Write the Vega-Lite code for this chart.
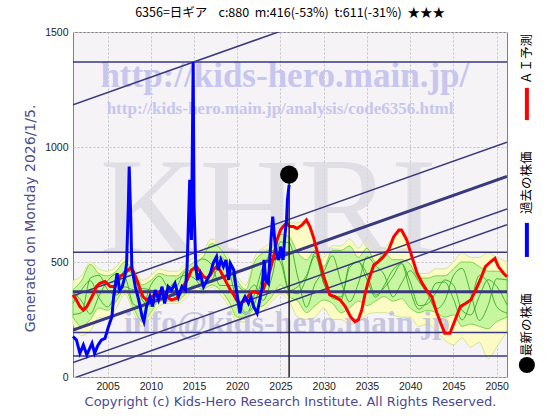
{
  "$schema": "https://vega.github.io/schema/vega-lite/v6.json",
  "width": 434,
  "height": 345,
  "autosize": {"type": "none"},
  "padding": {"left": 73, "top": 32, "right": 53, "bottom": 43},
  "background": "#ffffff",
  "config": {"view": {"fill": "#f5f3f6", "stroke": "#808080", "strokeWidth": 1}},
  "title": {"text": "6356=日ギア\u00a0\u00a0\u00a0\u00a0c:880\u00a0\u00a0m:416(-53%)\u00a0\u00a0t:611(-31%)\u00a0\u00a0★★★", "font": "Noto Sans CJK JP", "fontSize": 12.5, "fontWeight": "normal", "color": "#000000", "offset": 8, "anchor": "middle"},
  "datasets": {
    "blue": [
      {"yr": 2001.0, "v": 176}, {"yr": 2001.4, "v": 161}, {"yr": 2001.8, "v": 103}, {"yr": 2002.2, "v": 139}, {"yr": 2002.6, "v": 96},
      {"yr": 2003.2, "v": 147}, {"yr": 2003.5, "v": 103}, {"yr": 2003.9, "v": 139}, {"yr": 2004.3, "v": 161}, {"yr": 2004.7, "v": 168},
      {"yr": 2005.1, "v": 219}, {"yr": 2005.5, "v": 262}, {"yr": 2005.7, "v": 349}, {"yr": 2006.1, "v": 451}, {"yr": 2006.4, "v": 378},
      {"yr": 2006.7, "v": 393}, {"yr": 2007.0, "v": 436}, {"yr": 2007.2, "v": 494}, {"yr": 2007.4, "v": 741}, {"yr": 2007.5, "v": 915},
      {"yr": 2007.7, "v": 668}, {"yr": 2007.8, "v": 480}, {"yr": 2008.2, "v": 393}, {"yr": 2008.6, "v": 335}, {"yr": 2009.0, "v": 262},
      {"yr": 2009.2, "v": 241}, {"yr": 2009.5, "v": 306}, {"yr": 2009.9, "v": 349}, {"yr": 2010.2, "v": 306}, {"yr": 2010.5, "v": 378},
      {"yr": 2010.9, "v": 335}, {"yr": 2011.3, "v": 393}, {"yr": 2011.6, "v": 320}, {"yr": 2012.0, "v": 393}, {"yr": 2012.4, "v": 378},
      {"yr": 2012.8, "v": 407}, {"yr": 2013.2, "v": 349}, {"yr": 2013.6, "v": 393}, {"yr": 2014.0, "v": 378}, {"yr": 2014.2, "v": 480},
      {"yr": 2014.5, "v": 857}, {"yr": 2014.7, "v": 596}, {"yr": 2014.9, "v": 1370}, {"yr": 2015.0, "v": 741}, {"yr": 2015.2, "v": 480},
      {"yr": 2015.4, "v": 422}, {"yr": 2015.7, "v": 451}, {"yr": 2016.1, "v": 393}, {"yr": 2016.5, "v": 422}, {"yr": 2016.9, "v": 451},
      {"yr": 2017.2, "v": 494}, {"yr": 2017.6, "v": 523}, {"yr": 2017.8, "v": 465}, {"yr": 2018.1, "v": 509}, {"yr": 2018.4, "v": 480},
      {"yr": 2018.7, "v": 509}, {"yr": 2019.0, "v": 422}, {"yr": 2019.2, "v": 494}, {"yr": 2019.6, "v": 465}, {"yr": 2019.9, "v": 378},
      {"yr": 2020.3, "v": 277}, {"yr": 2020.5, "v": 320}, {"yr": 2020.9, "v": 349}, {"yr": 2021.3, "v": 320}, {"yr": 2021.6, "v": 349},
      {"yr": 2021.9, "v": 306}, {"yr": 2022.3, "v": 277}, {"yr": 2022.6, "v": 335}, {"yr": 2022.9, "v": 393}, {"yr": 2023.1, "v": 509},
      {"yr": 2023.3, "v": 422}, {"yr": 2023.6, "v": 407}, {"yr": 2023.9, "v": 596}, {"yr": 2024.1, "v": 697}, {"yr": 2024.3, "v": 610},
      {"yr": 2024.5, "v": 538}, {"yr": 2024.8, "v": 509}, {"yr": 2025.0, "v": 567}, {"yr": 2025.3, "v": 509}, {"yr": 2025.5, "v": 610},
      {"yr": 2025.7, "v": 683}, {"yr": 2025.8, "v": 770}, {"yr": 2026.0, "v": 835}
    ],
    "red": [
      {"yr": 2001.0, "v": 357}, {"yr": 2001.4, "v": 335}, {"yr": 2001.8, "v": 306}, {"yr": 2002.2, "v": 291}, {"yr": 2002.6, "v": 306},
      {"yr": 2003.0, "v": 335}, {"yr": 2003.4, "v": 364}, {"yr": 2003.7, "v": 393}, {"yr": 2004.1, "v": 407}, {"yr": 2004.7, "v": 415},
      {"yr": 2005.3, "v": 393}, {"yr": 2005.9, "v": 393}, {"yr": 2006.4, "v": 436}, {"yr": 2007.0, "v": 451}, {"yr": 2007.6, "v": 473},
      {"yr": 2008.0, "v": 458}, {"yr": 2008.4, "v": 422}, {"yr": 2008.8, "v": 378}, {"yr": 2009.1, "v": 349}, {"yr": 2009.5, "v": 335},
      {"yr": 2010.1, "v": 349}, {"yr": 2010.7, "v": 364}, {"yr": 2011.3, "v": 371}, {"yr": 2011.8, "v": 349}, {"yr": 2012.4, "v": 335},
      {"yr": 2013.0, "v": 342}, {"yr": 2013.6, "v": 386}, {"yr": 2014.2, "v": 422}, {"yr": 2014.7, "v": 465}, {"yr": 2015.3, "v": 480},
      {"yr": 2015.7, "v": 458}, {"yr": 2016.1, "v": 436}, {"yr": 2016.5, "v": 429}, {"yr": 2016.9, "v": 443}, {"yr": 2017.2, "v": 465},
      {"yr": 2017.6, "v": 480}, {"yr": 2018.0, "v": 465}, {"yr": 2018.4, "v": 436}, {"yr": 2018.8, "v": 407}, {"yr": 2019.2, "v": 378},
      {"yr": 2019.6, "v": 357}, {"yr": 2019.9, "v": 335}, {"yr": 2020.3, "v": 320}, {"yr": 2020.7, "v": 328}, {"yr": 2021.1, "v": 342},
      {"yr": 2021.5, "v": 364}, {"yr": 2021.9, "v": 371}, {"yr": 2022.5, "v": 364}, {"yr": 2023.0, "v": 378}, {"yr": 2023.4, "v": 422},
      {"yr": 2023.8, "v": 465}, {"yr": 2024.2, "v": 523}, {"yr": 2024.6, "v": 596}, {"yr": 2025.0, "v": 639}, {"yr": 2025.3, "v": 654},
      {"yr": 2025.7, "v": 668}, {"yr": 2026.1, "v": 654}, {"yr": 2026.5, "v": 654}, {"yr": 2026.9, "v": 646}, {"yr": 2027.5, "v": 661},
      {"yr": 2028.0, "v": 683}, {"yr": 2028.4, "v": 654}, {"yr": 2028.8, "v": 610}, {"yr": 2029.2, "v": 552}, {"yr": 2029.6, "v": 494},
      {"yr": 2030.0, "v": 436}, {"yr": 2030.4, "v": 393}, {"yr": 2030.7, "v": 357}, {"yr": 2031.3, "v": 349}, {"yr": 2031.9, "v": 335},
      {"yr": 2032.5, "v": 306}, {"yr": 2033.1, "v": 262}, {"yr": 2033.6, "v": 241}, {"yr": 2034.0, "v": 248}, {"yr": 2034.4, "v": 291},
      {"yr": 2034.8, "v": 364}, {"yr": 2035.2, "v": 422}, {"yr": 2035.8, "v": 487}, {"yr": 2036.3, "v": 501}, {"yr": 2036.9, "v": 523},
      {"yr": 2037.5, "v": 552}, {"yr": 2038.1, "v": 610}, {"yr": 2038.7, "v": 639}, {"yr": 2039.0, "v": 639}, {"yr": 2039.6, "v": 596},
      {"yr": 2040.2, "v": 523}, {"yr": 2040.8, "v": 451}, {"yr": 2041.4, "v": 407}, {"yr": 2041.9, "v": 378}, {"yr": 2042.5, "v": 349},
      {"yr": 2043.1, "v": 277}, {"yr": 2043.7, "v": 219}, {"yr": 2044.0, "v": 190}, {"yr": 2044.6, "v": 190}, {"yr": 2045.2, "v": 248},
      {"yr": 2045.8, "v": 306}, {"yr": 2046.4, "v": 320}, {"yr": 2047.0, "v": 335}, {"yr": 2047.5, "v": 371}, {"yr": 2048.1, "v": 422},
      {"yr": 2048.7, "v": 480}, {"yr": 2049.3, "v": 501}, {"yr": 2049.8, "v": 516}, {"yr": 2050.2, "v": 480}, {"yr": 2050.8, "v": 451},
      {"yr": 2051.2, "v": 436}
    ],
    "band": [
      {"yr": 2001, "ylo": 230, "yhi": 420, "glo": 260, "ghi": 380, "g1": 368, "g2": 272, "g3": 320},
      {"yr": 2002, "ylo": 180, "yhi": 440, "glo": 220, "ghi": 420, "g1": 330, "g2": 280, "g3": 380},
      {"yr": 2003, "ylo": 200, "yhi": 500, "glo": 250, "ghi": 490, "g1": 274, "g2": 430, "g3": 418},
      {"yr": 2004, "ylo": 260, "yhi": 470, "glo": 300, "ghi": 450, "g1": 352, "g2": 442, "g3": 345},
      {"yr": 2005, "ylo": 250, "yhi": 460, "glo": 290, "ghi": 440, "g1": 418, "g2": 380, "g3": 305},
      {"yr": 2006, "ylo": 300, "yhi": 480, "glo": 330, "ghi": 460, "g1": 447, "g2": 356, "g3": 369},
      {"yr": 2007, "ylo": 360, "yhi": 520, "glo": 380, "ghi": 500, "g1": 434, "g2": 392, "g3": 464},
      {"yr": 2008, "ylo": 280, "yhi": 480, "glo": 300, "ghi": 460, "g1": 316, "g2": 380, "g3": 444},
      {"yr": 2009, "ylo": 220, "yhi": 420, "glo": 240, "ghi": 400, "g1": 304, "g2": 384, "g3": 336},
      {"yr": 2010, "ylo": 260, "yhi": 440, "glo": 280, "ghi": 420, "g1": 399, "g2": 378, "g3": 308},
      {"yr": 2011, "ylo": 310, "yhi": 470, "glo": 330, "ghi": 450, "g1": 438, "g2": 354, "g3": 348},
      {"yr": 2012, "ylo": 320, "yhi": 460, "glo": 330, "ghi": 440, "g1": 385, "g2": 341, "g3": 380},
      {"yr": 2013, "ylo": 320, "yhi": 460, "glo": 330, "ghi": 440, "g1": 341, "g2": 390, "g3": 424},
      {"yr": 2014, "ylo": 340, "yhi": 490, "glo": 360, "ghi": 470, "g1": 398, "g2": 459, "g3": 442},
      {"yr": 2015, "ylo": 380, "yhi": 520, "glo": 400, "ghi": 500, "g1": 480, "g2": 465, "g3": 430},
      {"yr": 2016, "ylo": 360, "yhi": 540, "glo": 380, "ghi": 520, "g1": 513, "g2": 401, "g3": 394},
      {"yr": 2017, "ylo": 390, "yhi": 600, "glo": 400, "ghi": 580, "g1": 490, "g2": 418, "g3": 463},
      {"yr": 2018, "ylo": 360, "yhi": 580, "glo": 380, "ghi": 560, "g1": 398, "g2": 488, "g3": 524},
      {"yr": 2019, "ylo": 310, "yhi": 520, "glo": 330, "ghi": 500, "g1": 398, "g2": 492, "g3": 466},
      {"yr": 2020, "ylo": 240, "yhi": 440, "glo": 260, "ghi": 420, "g1": 396, "g2": 356, "g3": 324},
      {"yr": 2021, "ylo": 240, "yhi": 400, "glo": 260, "ghi": 380, "g1": 368, "g2": 278, "g3": 272},
      {"yr": 2022, "ylo": 280, "yhi": 520, "glo": 300, "ghi": 500, "g1": 400, "g2": 320, "g3": 360},
      {"yr": 2023, "ylo": 290, "yhi": 560, "glo": 310, "ghi": 540, "g1": 333, "g2": 448, "g3": 482},
      {"yr": 2024, "ylo": 330, "yhi": 590, "glo": 350, "ghi": 560, "g1": 434, "g2": 550, "g3": 528},
      {"yr": 2025, "ylo": 360, "yhi": 660, "glo": 400, "ghi": 620, "g1": 587, "g2": 521, "g3": 499},
      {"yr": 2026, "ylo": 330, "yhi": 670, "glo": 350, "ghi": 610, "g1": 584, "g2": 376, "g3": 376},
      {"yr": 2027, "ylo": 260, "yhi": 670, "glo": 330, "ghi": 540, "g1": 435, "g2": 362, "g3": 393},
      {"yr": 2028, "ylo": 250, "yhi": 680, "glo": 280, "ghi": 510, "g1": 303, "g2": 430, "g3": 441},
      {"yr": 2029, "ylo": 260, "yhi": 580, "glo": 310, "ghi": 550, "g1": 406, "g2": 538, "g3": 526},
      {"yr": 2030, "ylo": 300, "yhi": 520, "glo": 335, "ghi": 480, "g1": 458, "g2": 408, "g3": 408},
      {"yr": 2031, "ylo": 250, "yhi": 570, "glo": 320, "ghi": 550, "g1": 527, "g2": 343, "g3": 355},
      {"yr": 2032, "ylo": 250, "yhi": 570, "glo": 280, "ghi": 550, "g1": 415, "g2": 334, "g3": 348},
      {"yr": 2033, "ylo": 230, "yhi": 600, "glo": 300, "ghi": 570, "g1": 327, "g2": 489, "g3": 476},
      {"yr": 2034, "ylo": 240, "yhi": 560, "glo": 330, "ghi": 520, "g1": 406, "g2": 501, "g3": 501},
      {"yr": 2035, "ylo": 270, "yhi": 600, "glo": 310, "ghi": 560, "g1": 523, "g2": 423, "g3": 448},
      {"yr": 2036, "ylo": 280, "yhi": 560, "glo": 330, "ghi": 500, "g1": 483, "g2": 347, "g3": 356},
      {"yr": 2037, "ylo": 280, "yhi": 560, "glo": 350, "ghi": 540, "g1": 445, "g2": 398, "g3": 388},
      {"yr": 2038, "ylo": 270, "yhi": 610, "glo": 330, "ghi": 510, "g1": 348, "g2": 465, "g3": 438},
      {"yr": 2039, "ylo": 260, "yhi": 640, "glo": 340, "ghi": 510, "g1": 408, "g2": 493, "g3": 493},
      {"yr": 2040, "ylo": 260, "yhi": 560, "glo": 300, "ghi": 490, "g1": 462, "g2": 376, "g3": 414},
      {"yr": 2041, "ylo": 220, "yhi": 450, "glo": 280, "ghi": 430, "g1": 415, "g2": 295, "g3": 310},
      {"yr": 2042, "ylo": 230, "yhi": 450, "glo": 290, "ghi": 430, "g1": 360, "g2": 332, "g3": 318},
      {"yr": 2043, "ylo": 200, "yhi": 470, "glo": 280, "ghi": 440, "g1": 296, "g2": 408, "g3": 368},
      {"yr": 2044, "ylo": 160, "yhi": 470, "glo": 260, "ghi": 440, "g1": 332, "g2": 413, "g3": 422},
      {"yr": 2045, "ylo": 140, "yhi": 500, "glo": 270, "ghi": 470, "g1": 440, "g2": 340, "g3": 400},
      {"yr": 2046, "ylo": 170, "yhi": 540, "glo": 220, "ghi": 500, "g1": 472, "g2": 248, "g3": 290},
      {"yr": 2047, "ylo": 130, "yhi": 520, "glo": 230, "ghi": 500, "g1": 365, "g2": 325, "g3": 270},
      {"yr": 2048, "ylo": 150, "yhi": 520, "glo": 220, "ghi": 480, "g1": 246, "g2": 441, "g3": 350},
      {"yr": 2049, "ylo": 80, "yhi": 540, "glo": 210, "ghi": 460, "g1": 310, "g2": 410, "g3": 423},
      {"yr": 2050, "ylo": 130, "yhi": 520, "glo": 240, "ghi": 460, "g1": 427, "g2": 306, "g3": 394},
      {"yr": 2051.2, "ylo": 200, "yhi": 500, "glo": 260, "ghi": 440, "g1": 422, "g2": 278, "g3": 314}
    ],
    "hthin": [{"v": 1370}, {"v": 542}, {"v": 194}, {"v": 91}],
    "hthick": [{"v": 371}],
    "dthin": [
      {"x0": 2001, "x1": 2051.2, "v0": 1184, "v1": 1852},
      {"x0": 2001, "x1": 2051.2, "v0": 353, "v1": 1021},
      {"x0": 2001, "x1": 2051.2, "v0": 63, "v1": 731},
      {"x0": 2001, "x1": 2051.2, "v0": -6, "v1": 662}
    ],
    "dthick": [{"x0": 2001, "x1": 2051.2, "v0": 204, "v1": 872}]
  },
  "layer": [
    {
      "data": {"name": "band"},
      "mark": {"type": "area", "color": "#fdfbc4", "stroke": "#c8e08a", "strokeWidth": 0.8, "interpolate": "monotone"},
      "encoding": {
        "x": {"field": "yr", "type": "quantitative", "scale": {"domain": [2001, 2051.2], "nice": false, "zero": false},
          "axis": {"values": [2005, 2010, 2015, 2020, 2025, 2030, 2035, 2040, 2045, 2050], "format": "d", "labelFont": "Liberation Sans", "labelFontSize": 10.5, "labelColor": "#222222", "labelPadding": 4, "ticks": false, "domain": false, "grid": true, "gridColor": "#c4c4c4", "gridDash": [2, 2], "title": "Copyright (c) Kids-Hero Research Institute. All Rights Reserved.", "titleFont": "DejaVu Sans", "titleFontSize": 13, "titleFontWeight": "normal", "titleColor": "#4a4a96", "titlePadding": 4}},
        "y": {"field": "ylo", "type": "quantitative", "scale": {"domain": [0, 1500], "nice": false, "zero": false},
          "axis": {"values": [0, 500, 1000, 1500], "format": "d", "labelFont": "Liberation Sans", "labelFontSize": 10.5, "labelColor": "#222222", "labelPadding": 5, "ticks": false, "domain": false, "grid": true, "gridColor": "#c4c4c4", "gridDash": [2, 2], "title": "Generated on Monday 2026/1/5.", "titleFont": "DejaVu Sans", "titleFontSize": 14, "titleFontWeight": "normal", "titleColor": "#4e4e8c", "titleX": -43, "titleY": 186, "titleBaseline": "middle"}},
        "y2": {"field": "yhi"}
      }
    },
    {
      "data": {"values": [{"t": "KHRI"}]},
      "mark": {"type": "text", "font": "Liberation Serif", "fontSize": 138, "color": "#d9d9e0", "opacity": 0.75, "align": "center", "baseline": "alphabetic"},
      "encoding": {"x": {"datum": 2023.6, "type": "quantitative"}, "y": {"datum": 539, "type": "quantitative"}, "text": {"field": "t"}}
    },
    {
      "data": {"name": "band"},
      "mark": {"type": "area", "color": "#c8f5a0", "stroke": "#66cc33", "strokeWidth": 0.8, "interpolate": "monotone"},
      "encoding": {"x": {"field": "yr", "type": "quantitative"}, "y": {"field": "glo", "type": "quantitative"}, "y2": {"field": "ghi"}}
    },
    {
      "data": {"name": "band"},
      "transform": [{"fold": ["g1", "g2", "g3"], "as": ["k", "gv"]}],
      "mark": {"type": "line", "color": "#33aa22", "strokeWidth": 0.9, "interpolate": "monotone"},
      "encoding": {"x": {"field": "yr", "type": "quantitative"}, "y": {"field": "gv", "type": "quantitative"}, "detail": {"field": "k"}}
    },
    {
      "data": {"values": [{"t": "http://kids-hero.main.jp/"}]},
      "mark": {"type": "text", "font": "Liberation Serif", "fontSize": 35, "fontWeight": "bold", "color": "#c6c6ee", "align": "center", "baseline": "alphabetic"},
      "encoding": {"x": {"datum": 2025.5, "type": "quantitative"}, "y": {"datum": 1263, "type": "quantitative"}, "text": {"field": "t"}}
    },
    {
      "data": {"values": [{"t": "http://kids-hero.main.jp/analysis/code6356.html"}]},
      "mark": {"type": "text", "font": "Liberation Serif", "fontSize": 17, "fontWeight": "bold", "color": "#c6c6ee", "align": "center", "baseline": "alphabetic"},
      "encoding": {"x": {"datum": 2024.95, "type": "quantitative"}, "y": {"datum": 1143, "type": "quantitative"}, "text": {"field": "t"}}
    },
    {
      "data": {"values": [{"t": "info@kids-hero.main.jp"}]},
      "mark": {"type": "text", "font": "Liberation Serif", "fontSize": 32, "fontWeight": "bold", "color": "#bcbcdc", "opacity": 0.8, "align": "center", "baseline": "alphabetic"},
      "encoding": {"x": {"datum": 2025.75, "type": "quantitative"}, "y": {"datum": 191, "type": "quantitative"}, "text": {"field": "t"}}
    },
    {
      "data": {"name": "hthin"},
      "mark": {"type": "rule", "color": "#39397d", "strokeWidth": 1.5},
      "encoding": {"y": {"field": "v", "type": "quantitative"}}
    },
    {
      "data": {"name": "hthick"},
      "mark": {"type": "rule", "color": "#39397d", "strokeWidth": 3},
      "encoding": {"y": {"field": "v", "type": "quantitative"}}
    },
    {
      "data": {"name": "dthin"},
      "mark": {"type": "rule", "color": "#39397d", "strokeWidth": 1.5, "clip": true},
      "encoding": {"x": {"field": "x0", "type": "quantitative"}, "x2": {"field": "x1"}, "y": {"field": "v0", "type": "quantitative"}, "y2": {"field": "v1"}}
    },
    {
      "data": {"name": "dthick"},
      "mark": {"type": "rule", "color": "#39397d", "strokeWidth": 3, "clip": true},
      "encoding": {"x": {"field": "x0", "type": "quantitative"}, "x2": {"field": "x1"}, "y": {"field": "v0", "type": "quantitative"}, "y2": {"field": "v1"}}
    },
    {
      "data": {"name": "red"},
      "mark": {"type": "line", "color": "#ff0000", "strokeWidth": 3},
      "encoding": {"x": {"field": "yr", "type": "quantitative"}, "y": {"field": "v", "type": "quantitative"}}
    },
    {
      "data": {"values": [{"a": 0, "b": 850}]},
      "mark": {"type": "rule", "color": "#222222", "strokeWidth": 1.5},
      "encoding": {"x": {"datum": 2026.0, "type": "quantitative"}, "y": {"field": "a", "type": "quantitative"}, "y2": {"field": "b"}}
    },
    {
      "data": {"name": "blue"},
      "mark": {"type": "line", "color": "#0000ff", "strokeWidth": 3},
      "encoding": {"x": {"field": "yr", "type": "quantitative"}, "y": {"field": "v", "type": "quantitative"}}
    },
    {
      "data": {"values": [{"yr": 2026.0, "v": 880}]},
      "mark": {"type": "point", "filled": true, "color": "#000000", "size": 330, "opacity": 1},
      "encoding": {"x": {"field": "yr", "type": "quantitative"}, "y": {"field": "v", "type": "quantitative"}}
    },
    {
      "data": {"values": [{"a": 1257, "b": 1117}]},
      "mark": {"type": "rule", "color": "#ff0000", "strokeWidth": 4},
      "encoding": {"x": {"datum": 2053.5, "type": "quantitative"}, "y": {"field": "a", "type": "quantitative"}, "y2": {"field": "b"}}
    },
    {
      "data": {"values": [{"a": 670, "b": 522}]},
      "mark": {"type": "rule", "color": "#0000ff", "strokeWidth": 4},
      "encoding": {"x": {"datum": 2053.5, "type": "quantitative"}, "y": {"field": "a", "type": "quantitative"}, "y2": {"field": "b"}}
    },
    {
      "data": {"values": [{"v": 52}]},
      "mark": {"type": "point", "filled": true, "color": "#000000", "size": 260, "opacity": 1},
      "encoding": {"x": {"datum": 2053.5, "type": "quantitative"}, "y": {"field": "v", "type": "quantitative"}}
    },
    {
      "data": {"values": [{"t": "ＡＩ予測", "v": 1274}, {"t": "過去の株価", "v": 709}, {"t": "最新の株価", "v": 91}]},
      "mark": {"type": "text", "font": "Noto Sans CJK JP", "fontSize": 12.5, "color": "#000000", "angle": -90, "align": "left", "baseline": "middle"},
      "encoding": {"x": {"datum": 2053.5, "type": "quantitative"}, "y": {"field": "v", "type": "quantitative"}, "text": {"field": "t"}}
    }
  ]
}
